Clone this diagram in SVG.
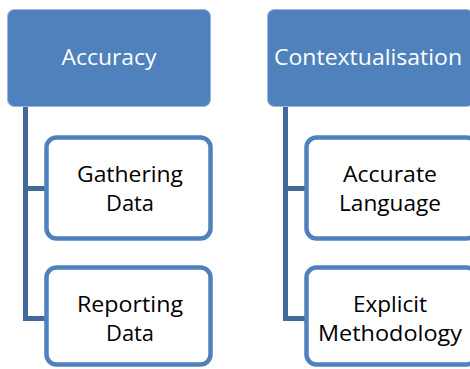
<svg xmlns="http://www.w3.org/2000/svg" width="470" height="369" viewBox="0 0 470 369">
<style>
.head{fill:#4F81BD;stroke:#9DB5D8;stroke-width:1}
.child{fill:#FFFFFF;stroke:#4F81BD;stroke-width:4.5}
.ht{font-family:"Open Sans","Liberation Sans",sans-serif;font-size:22.5px;fill:#FFFFFF;text-anchor:middle}
.ct{font-family:"Open Sans","Liberation Sans",sans-serif;font-size:22.5px;fill:#000000;text-anchor:middle}
.conn{fill:none;stroke:#41699A;stroke-width:5}
</style>
<rect width="470" height="369" fill="#FFFFFF"/>
<g id="connectors">
<path class="conn" d="M25.5,107 V318.5 H46"/>
<path class="conn" d="M25.5,188.5 H46"/>
<path class="conn" d="M285.5,107 V318.5 H306"/>
<path class="conn" d="M285.5,188.5 H306"/>
</g>
<g id="accuracy">
<rect class="head" x="7.5" y="9.5" width="203" height="97" rx="7"/>
<text class="ht" x="109" y="65" textLength="95" lengthAdjust="spacingAndGlyphs">Accuracy</text>
</g>
<g id="contextualisation">
<rect class="head" x="267.5" y="9.5" width="206" height="97" rx="7"/>
<text class="ht" x="368" y="65" textLength="188" lengthAdjust="spacingAndGlyphs">Contextualisation</text>
</g>
<g id="gathering">
<rect class="child" x="46.5" y="137.5" width="164" height="101" rx="10"/>
<text class="ct" x="130" y="182" textLength="106" lengthAdjust="spacingAndGlyphs">Gathering</text>
<text class="ct" x="130" y="211" textLength="48" lengthAdjust="spacingAndGlyphs">Data</text>
</g>
<g id="reporting">
<rect class="child" x="46.5" y="267.5" width="164" height="97" rx="10"/>
<text class="ct" x="130" y="312" textLength="106" lengthAdjust="spacingAndGlyphs">Reporting</text>
<text class="ct" x="130" y="341" textLength="48" lengthAdjust="spacingAndGlyphs">Data</text>
</g>
<g id="accurate-language">
<rect class="child" x="306.5" y="137.5" width="170" height="101" rx="10"/>
<text class="ct" x="390" y="182" textLength="94" lengthAdjust="spacingAndGlyphs">Accurate</text>
<text class="ct" x="390" y="211" textLength="102" lengthAdjust="spacingAndGlyphs">Language</text>
</g>
<g id="explicit-methodology">
<rect class="child" x="306.5" y="267.5" width="170" height="97" rx="10"/>
<text class="ct" x="390" y="312" textLength="74" lengthAdjust="spacingAndGlyphs">Explicit</text>
<text class="ct" x="390" y="341" textLength="144" lengthAdjust="spacingAndGlyphs">Methodology</text>
</g>
</svg>
